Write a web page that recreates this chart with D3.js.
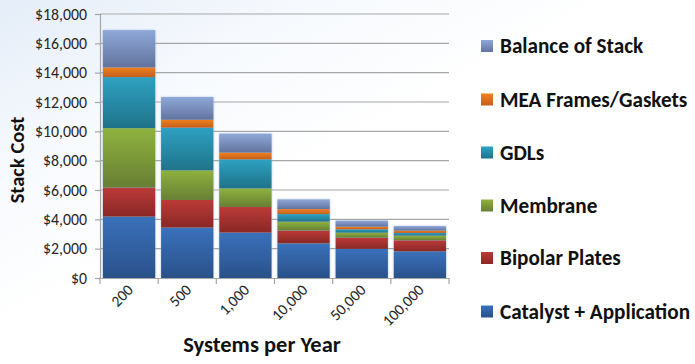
<!DOCTYPE html>
<html>
<head>
<meta charset="utf-8">
<script src="https://cdn.jsdelivr.net/npm/d3@7"></script>
<style>
  html, body { margin: 0; padding: 0; background: #fff; }
  svg { display: block; }
  text { font-family: Carlito, "Liberation Sans", "Noto Sans", sans-serif; }
</style>
</head>
<body>
<svg id="chart" width="695" height="364"></svg>
<script>
// Annual production volumes (systems per year)
const categories = ["200", "500", "1,000", "10,000", "50,000", "100,000"];

// Stack cost components, dollars per stack
const catalyst  = [4180, 3430, 3090, 2360, 1980, 1820];
const bipolar   = [1980, 1890, 1750,  870,  770,  750];
const membrane  = [4060, 2020, 1270,  610,  340,  320];
const gdls      = [3480, 2910, 1980,  520,  230,  180];
const mea       = [ 660,  540,  460,  340,  180,  160];
const balance   = [2540, 1550, 1290,  660,  410,  310];

const yTicks = [0, 2000, 4000, 6000, 8000, 10000, 12000, 14000, 16000, 18000];

const seriesNames = ["Catalyst + Application", "Bipolar Plates", "Membrane", "GDLs", "MEA Frames/Gaskets", "Balance of Stack"];
const seriesValues = [catalyst, bipolar, membrane, gdls, mea, balance];
// light (top) and dark (bottom) shade of each component
const shades = [
  ["#3a71bb", "#2a5189"],
  ["#bb3a37", "#892826"],
  ["#8fb23f", "#677f33"],
  ["#2fa1c2", "#1f7389"],
  ["#f0801f", "#c45f1c"],
  ["#8ea8d9", "#63739f"]
];

const rows = categories.map((c, i) => {
  const r = { cat: c };
  seriesNames.forEach((s, k) => r[s] = seriesValues[k][i]);
  return r;
});
const stacked = d3.stack().keys(seriesNames)(rows);

const svg = d3.select("#chart");
const defs = svg.append("defs");

// faint blue wash in the upper-left corner of the slide
const bg = defs.append("linearGradient").attr("id", "bg")
  .attr("x1", 0).attr("y1", 0).attr("x2", 1).attr("y2", 1);
bg.append("stop").attr("offset", 0).attr("stop-color", "#e4edf8");
bg.append("stop").attr("offset", 0.22).attr("stop-color", "#f6f9fd");
bg.append("stop").attr("offset", 0.45).attr("stop-color", "#ffffff");
svg.append("rect").attr("width", 695).attr("height", 364).attr("fill", "url(#bg)");

shades.forEach((s, k) => {
  const g = defs.append("linearGradient").attr("id", "g" + k)
    .attr("x1", 0).attr("y1", 0).attr("x2", 0).attr("y2", 1);
  g.append("stop").attr("offset", 0).attr("stop-color", s[0]);
  g.append("stop").attr("offset", 1).attr("stop-color", s[1]);
});

const glow = defs.append("filter").attr("id", "glow")
  .attr("x", -0.1).attr("y", -0.1).attr("width", 1.2).attr("height", 1.2);
glow.append("feDropShadow").attr("dx", 0).attr("dy", 0).attr("stdDeviation", 1.2)
  .attr("flood-color", "#9fb6d6").attr("flood-opacity", 0.8);

const x = d3.scaleBand().domain(categories).range([100, 449])
  .paddingInner(0.1).paddingOuter(0.05);
const y = d3.scaleLinear().domain([0, 18000]).range([278, 14]);

// gridlines
svg.append("g").selectAll("line").data(yTicks.filter(d => d > 0)).join("line")
  .attr("x1", 100).attr("x2", 449)
  .attr("y1", d => y(d)).attr("y2", d => y(d))
  .attr("stroke", "#a6a6a6").attr("stroke-width", 1.2);

// stacked bars
const barG = svg.append("g");
categories.forEach((c, i) => {
  const g = barG.append("g").attr("filter", "url(#glow)");
  stacked.forEach((layer, k) => {
    const d = layer[i];
    g.append("rect")
      .attr("x", x(c)).attr("width", x.bandwidth())
      .attr("y", y(d[1])).attr("height", y(d[0]) - y(d[1]))
      .attr("fill", "url(#g" + k + ")");
  });
});

// y axis
const yAxis = svg.append("g").attr("transform", "translate(100,0)")
  .call(d3.axisLeft(y).tickValues(yTicks).tickSize(5).tickPadding(8)
    .tickFormat(d => "$" + d3.format(",")(d)));
yAxis.select(".domain").attr("stroke", "#a6a6a6").attr("stroke-width", 1.2);
yAxis.selectAll(".tick line").attr("stroke", "#a6a6a6").attr("stroke-width", 1.2);
yAxis.selectAll("text").attr("font-size", 15.8).attr("fill", "#262626")
  .attr("font-family", 'Carlito, "Liberation Sans", sans-serif');

// x axis with tick marks between categories
const xAxis = svg.append("g").attr("transform", "translate(0,278)")
  .call(d3.axisBottom(x).tickSize(0).tickFormat(""));
xAxis.select(".domain").attr("stroke", "#a6a6a6").attr("stroke-width", 1.2);
const edges = [100].concat(categories.map((c, i) => 100 + (i + 1) * x.step()));
svg.append("g").selectAll("line").data(edges).join("line")
  .attr("x1", d => d).attr("x2", d => d).attr("y1", 278).attr("y2", 284)
  .attr("stroke", "#a6a6a6").attr("stroke-width", 1.2);

svg.append("g").selectAll("text").data(categories).join("text")
  .attr("transform", d => `translate(${x(d) + x.bandwidth() / 2 + 5},${291}) rotate(-45)`)
  .attr("text-anchor", "end")
  .attr("font-size", 15.5).attr("fill", "#262626")
  .text(d => d);

// axis titles
svg.append("text")
  .attr("transform", "translate(24,160) rotate(-90)")
  .attr("text-anchor", "middle")
  .attr("font-size", 20.5).attr("font-weight", "bold").attr("fill", "#111")
  .text("Stack Cost");
svg.append("text")
  .attr("x", 262).attr("y", 352)
  .attr("text-anchor", "middle")
  .attr("font-size", 22.5).attr("font-weight", "bold").attr("fill", "#111")
  .text("Systems per Year");

// legend, top item is the top of the stack
const legendY = [46, 99.5, 152.5, 205.5, 258, 311.5];
const legend = svg.append("g");
seriesNames.slice().reverse().forEach((name, j) => {
  const k = seriesNames.length - 1 - j;
  legend.append("rect")
    .attr("x", 481).attr("y", legendY[j] - 6).attr("width", 12).attr("height", 12)
    .attr("fill", "url(#g" + k + ")");
  legend.append("text")
    .attr("x", 500).attr("y", legendY[j]).attr("dy", "0.35em")
    .attr("font-size", 21.2).attr("font-weight", "bold").attr("fill", "#111")
    .text(name);
});
</script>
</body>
</html>
